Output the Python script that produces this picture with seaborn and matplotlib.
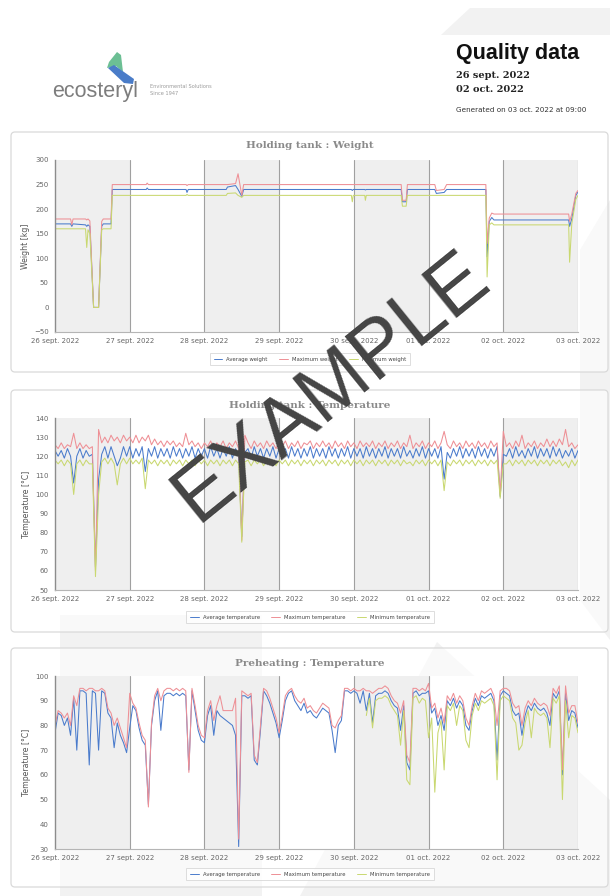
import pandas as pd
import matplotlib.pyplot as plt
import seaborn as sns
from matplotlib import font_manager
from matplotlib.patches import Polygon, FancyBboxPatch

# ---------------- data ----------------
day_labels = ['26 sept. 2022', '27 sept. 2022', '28 sept. 2022', '29 sept. 2022',
              '30 sept. 2022', '01 oct. 2022', '02 oct. 2022', '03 oct. 2022']

weight_names = ['Average weight', 'Maximum weight', 'Minimum weight']
temp_names = ['Average temperature', 'Maximum temperature', 'Minimum temperature']

# holding tank weight (hours since 26 sept 00:00)
weight_hours = [0, 5, 5.4, 5.8, 9.8, 10.2, 10.6, 11.2, 12.4, 14, 15, 15.5, 18, 18.4,
                29.3, 29.6, 30, 42.1, 42.4, 42.8, 55, 55.4, 58, 58.8, 60, 60.6,
                95.2, 95.5, 95.8, 99.5, 99.7, 100, 111.2, 111.6, 112.8, 113.2,
                122, 122.5, 125, 125.8, 138.4, 138.8, 139.5, 140.3, 141, 165, 165.3,
                166, 167.3, 168]
weight_avg = [170, 170, 165, 170, 168, 165, 168, 165, 0, 0, 165, 170, 170, 240,
              240, 243, 240, 240, 234, 240, 240, 245, 248, 240, 226, 240,
              240, 238, 240, 240, 239, 240, 240, 215, 215, 240,
              240, 232, 234, 240, 240, 103, 175, 183, 178, 178, 165,
              180, 228, 235]
weight_max = [180, 180, 168, 180, 180, 178, 180, 176, 0, 0, 175, 180, 180, 250,
              250, 253, 250, 250, 248, 250, 250, 250, 252, 272, 228, 250,
              250, 250, 250, 250, 250, 250, 250, 218, 218, 250,
              250, 238, 240, 250, 250, 130, 182, 192, 190, 190, 175,
              190, 232, 238]
weight_min = [160, 160, 160, 160, 160, 122, 158, 150, 0, 0, 158, 160, 160, 228,
              228, 228, 228, 228, 230, 228, 228, 232, 233, 228, 224, 228,
              228, 215, 228, 228, 218, 228, 228, 206, 206, 228,
              228, 228, 228, 228, 228, 62, 168, 172, 168, 168, 92,
              170, 220, 228]

# holding tank temperature, hourly 0..168
tank_avg = [123, 120, 123, 119, 124, 120, 106, 120, 124, 119, 123, 120,
            121, 62, 108, 121, 125, 119, 125, 120, 115, 119, 125, 120,
            125, 119, 124, 120, 125, 112, 124, 120, 125, 119, 124, 120,
            124, 119, 125, 120, 124, 119, 124, 120, 125, 119, 124, 120,
            124, 119, 125, 120, 124, 119, 124, 120, 125, 119, 124, 120,
            78, 122, 124, 119, 125, 120, 124, 119, 124, 120, 125, 119,
            124, 120, 124, 119, 125, 120, 124, 119, 124, 120, 125, 119,
            124, 120, 124, 119, 125, 120, 124, 119, 124, 120, 125, 119,
            124, 120, 124, 119, 125, 120, 124, 119, 124, 120, 125, 119,
            124, 120, 124, 119, 125, 120, 123, 119, 124, 120, 125, 119,
            124, 120, 124, 119, 125, 108, 122, 119, 124, 120, 125, 119,
            124, 120, 124, 119, 125, 120, 124, 119, 124, 120, 125, 99,
            121, 120, 124, 119, 125, 120, 123, 119, 124, 120, 125, 119,
            124, 120, 124, 119, 125, 120, 124, 119, 123, 120, 124, 119, 123]
tank_max = [126, 124, 127, 124, 126, 125, 132, 124, 127, 124, 126, 124,
            125, 60, 134, 127, 130, 127, 131, 128, 130, 127, 131, 128,
            130, 127, 131, 127, 130, 128, 131, 126, 129, 126, 128, 125,
            128, 126, 128, 125, 127, 125, 132, 126, 128, 125, 127, 124,
            127, 125, 128, 124, 127, 125, 128, 124, 127, 125, 128, 124,
            76, 131, 127, 124, 128, 125, 127, 124, 128, 125, 127, 124,
            127, 125, 128, 124, 127, 125, 128, 124, 127, 126, 128, 124,
            127, 125, 128, 125, 127, 124, 128, 125, 127, 124, 128, 125,
            127, 124, 128, 125, 127, 125, 128, 124, 127, 125, 128, 124,
            127, 125, 128, 124, 127, 125, 131, 124, 127, 125, 128, 124,
            127, 125, 128, 124, 127, 133, 126, 124, 128, 125, 127, 124,
            128, 125, 127, 124, 128, 125, 127, 124, 128, 125, 127, 100,
            133, 125, 127, 124, 128, 125, 131, 124, 127, 125, 128, 124,
            127, 125, 129, 125, 128, 125, 129, 126, 134, 125, 127, 124, 126]
tank_min = [118, 116, 118, 115, 118, 116, 100, 116, 118, 115, 118, 116,
            116, 57, 100, 117, 119, 116, 119, 116, 105, 116, 119, 116,
            119, 116, 118, 116, 119, 103, 118, 116, 118, 115, 118, 116,
            118, 115, 118, 116, 118, 115, 118, 116, 118, 115, 118, 116,
            118, 115, 118, 116, 118, 115, 118, 116, 118, 115, 118, 116,
            75, 117, 118, 115, 118, 116, 118, 115, 118, 116, 118, 115,
            118, 116, 118, 115, 118, 116, 118, 115, 118, 116, 118, 115,
            118, 116, 118, 115, 118, 116, 118, 115, 118, 116, 118, 115,
            118, 116, 118, 115, 118, 116, 118, 115, 118, 116, 118, 115,
            118, 116, 118, 115, 118, 116, 117, 115, 118, 116, 118, 115,
            118, 116, 118, 115, 118, 102, 117, 115, 118, 116, 118, 115,
            118, 116, 118, 115, 118, 116, 118, 115, 118, 116, 118, 98,
            116, 116, 118, 115, 118, 116, 118, 115, 118, 116, 118, 115,
            118, 116, 118, 115, 118, 116, 118, 115, 117, 114, 118, 115, 118]

# preheating temperature, hourly 0..168 (minimum only recorded from hour 100)
pre_avg = [77, 85, 84, 80, 83, 76, 91, 70, 94, 94, 93, 64,
           94, 93, 70, 94, 93, 85, 83, 71, 81, 76, 73, 69,
           79, 88, 86, 79, 74, 72, 48, 80, 90, 94, 78, 92,
           93, 93, 92, 93, 92, 93, 92, 62, 94, 86, 78, 74,
           73, 84, 88, 76, 86, 84, 83, 82, 81, 80, 76, 31,
           92, 92, 91, 92, 66, 64, 78, 94, 92, 89, 85, 81,
           75, 82, 90, 93, 94, 90, 88, 86, 89, 85, 86, 84,
           83, 85, 87, 86, 85, 78, 69, 80, 82, 94, 94, 93,
           94, 93, 89, 94, 86, 93, 81, 92, 93, 93, 94, 93,
           90, 88, 87, 78, 88, 65, 62, 93, 94, 92, 93, 93,
           94, 85, 87, 80, 84, 78, 90, 88, 91, 87, 90, 88,
           80, 78, 86, 91, 88, 92, 91, 92, 93, 90, 66, 92,
           94, 93, 92, 86, 84, 85, 76, 84, 88, 86, 89, 87,
           86, 87, 85, 80, 93, 91, 94, 60, 93, 82, 86, 85, 79]
pre_max = [80, 86, 85, 83, 85, 80, 92, 88, 95, 95, 94, 95,
           95, 94, 94, 95, 94, 87, 85, 80, 83, 79, 75, 71,
           93, 89, 87, 81, 76, 74, 47, 81, 92, 95, 90, 94,
           95, 95, 94, 95, 94, 95, 94, 61, 95, 88, 80, 76,
           75, 86, 90, 82, 88, 92, 86, 86, 86, 86, 91, 34,
           94, 93, 92, 93, 68, 65, 80, 95, 94, 91, 87, 83,
           77, 84, 92, 94, 95, 92, 90, 89, 91, 87, 88, 86,
           85, 87, 89, 88, 87, 80, 79, 82, 84, 95, 95, 94,
           95, 94, 94, 95, 94, 94, 93, 94, 95, 95, 96, 95,
           92, 90, 89, 85, 90, 68, 65, 95, 95, 94, 95, 94,
           97, 87, 89, 83, 87, 81, 92, 90, 93, 89, 92, 90,
           83, 80, 88, 93, 90, 94, 93, 94, 95, 92, 80, 94,
           95, 95, 94, 89, 87, 88, 80, 87, 90, 88, 91, 89,
           88, 89, 88, 84, 95, 93, 96, 62, 96, 85, 88, 88, 81]
pre_min = [None] * 100 + [
           84, 91, 79, 90, 91, 91, 92, 91,
           88, 86, 84, 72, 86, 58, 56, 91, 92, 89, 91, 90,
           75, 83, 53, 77, 82, 62, 88, 86, 89, 80, 88, 86,
           74, 71, 84, 89, 86, 90, 89, 90, 91, 88, 58, 90,
           92, 91, 90, 83, 81, 70, 72, 81, 86, 75, 87, 85,
           84, 85, 83, 71, 91, 89, 92, 50, 90, 75, 84, 83, 77]
hourly = list(range(169))

# ---------------- style ----------------
sns.set_style('white')
W, H = 610, 896
names = {f.name for f in font_manager.fontManager.ttflist}
narrow = 'Liberation Sans Narrow' if 'Liberation Sans Narrow' in names else None
plt.rcParams['font.family'] = ['DejaVu Sans']

c_avg, c_max, c_min = '#4a7bcc', '#ee8f95', '#c9d870'

fig = plt.figure(figsize=(W / 100, H / 100), dpi=100)
fig.patch.set_facecolor('white')

# background layer (watermark shapes, panel frames, header)
bg = fig.add_axes([0, 0, 1, 1], zorder=0)
bg.set_xlim(0, W)
bg.set_ylim(H, 0)
bg.axis('off')
for pts in ([(441, 35), (470, 8), (610, 8), (610, 35)],
            [(610, 200), (580, 250), (580, 600), (610, 640)],
            [(437, 642), (300, 896), (610, 896), (610, 800)],
            [(60, 615), (262, 615), (262, 896), (60, 896)]):
    bg.add_patch(Polygon(pts, closed=True, fc='#f2f2f2', ec='none'))

for top, bottom in ((132, 372), (390, 632), (648, 887)):
    bg.add_patch(FancyBboxPatch((11, top), 597, bottom - top,
                                boxstyle='round,pad=0,rounding_size=4',
                                fc='white', alpha=0.55, ec='none'))
    bg.add_patch(FancyBboxPatch((11, top), 597, bottom - top,
                                boxstyle='round,pad=0,rounding_size=4',
                                fc='none', ec='#dadada', lw=0.9))

# logo
bg.add_patch(Polygon([(117, 52), (121, 55), (123, 72), (116, 66), (107, 68), (109, 62)],
                     closed=True, fc='#6cbf94', ec='none'))
bg.add_patch(Polygon([(108, 68), (114, 65), (134, 79), (133, 84), (124, 83)],
                     closed=True, fc='#4a7cc8', ec='none'))
bg.text(52, 92, 'ecosteryl', fontsize=15.5, color='#7d7d7d', family='Liberation Sans',
        ha='left', va='center')
bg.text(150, 87, 'Environmental Solutions', fontsize=3.6, color='#9a9a9a', va='center')
bg.text(150, 93.5, 'Since 1947', fontsize=3.6, color='#9a9a9a', va='center')

if narrow:
    bg.text(456, 54, 'Quality data', fontsize=18, weight='bold', family=narrow,
            color='#111111', va='center', ha='left')
else:
    bg.text(456, 54, 'Quality data', fontsize=15.5, weight='bold',
            family='Liberation Sans', color='#111111', va='center', ha='left')
bg.text(456, 75, '26 sept. 2022', fontsize=7, weight='bold', family='DejaVu Serif',
        color='#222222', va='center')
bg.text(456, 89, '02 oct. 2022', fontsize=7, weight='bold', family='DejaVu Serif',
        color='#222222', va='center')
bg.text(456, 110, 'Generated on 03 oct. 2022 at 09:00', fontsize=5.2, color='#333333',
        va='center')


def draw_panel(top_px, bottom_px, title, title_y, hours, avg, mx, mn, labels,
               ylim, yticks, ylabel, legend_y):
    ax = fig.add_axes([55 / W, 1 - bottom_px / H, 523 / W, (bottom_px - top_px) / H],
                      zorder=1)
    ax.set_facecolor('white')
    for d in range(0, 7, 2):
        ax.axvspan(24 * d, 24 * d + 24, color='#efefef', lw=0, zorder=0)
    for d in range(1, 8):
        ax.axvline(24 * d, color='#a0a0a0', lw=0.8, zorder=1)

    n = len(hours)
    df = pd.DataFrame({'hour': list(hours) * 3,
                       'value': list(avg) + list(mx) + list(mn),
                       'series': [labels[0]] * n + [labels[1]] * n + [labels[2]] * n})
    sns.lineplot(data=df, x='hour', y='value', hue='series', hue_order=labels,
                 palette=dict(zip(labels, [c_avg, c_max, c_min])),
                 estimator=None, lw=0.75, ax=ax, zorder=2)

    ax.set_xlim(0, 168)
    ax.set_ylim(*ylim)
    ax.set_xticks(range(0, 169, 24))
    ax.set_xticklabels(day_labels)
    ax.set_yticks(yticks)
    ax.tick_params(axis='both', labelsize=5, colors='#666666', length=2.5, width=0.6,
                   pad=2)
    ax.tick_params(axis='x', length=0, pad=4)
    ax.set_xlabel('')
    ax.set_ylabel(ylabel, fontsize=5.6, color='#555555', labelpad=3)
    for side in ('top', 'right'):
        ax.spines[side].set_visible(False)
    ax.spines['left'].set_color('#8c8c8c')
    ax.spines['bottom'].set_color('#b5b5b5')
    ax.spines['left'].set_linewidth(1.0)
    ax.spines['bottom'].set_linewidth(0.8)

    sns.move_legend(ax, 'center', bbox_to_anchor=(255 / 523, -legend_y),
                    ncol=3, title=None, frameon=True, fontsize=3.8,
                    handlelength=1.6, columnspacing=2.2, handletextpad=0.8,
                    borderpad=0.7, fancybox=False, edgecolor='#cfcfcf')
    leg = ax.get_legend()
    leg.get_frame().set_linewidth(0.6)
    for line in leg.get_lines():
        line.set_linewidth(0.7)
    for t in leg.get_texts():
        t.set_color('#444444')

    bg.text(309.5, title_y, title, fontsize=7.5, weight='bold', family='DejaVu Serif',
            color='#8a8a8a', ha='center', va='center')
    return ax


draw_panel(160, 332, 'Holding tank : Weight', 146, weight_hours, weight_avg,
           weight_max, weight_min, weight_names, (-50, 300), range(-50, 301, 50),
           'Weight [kg]', 27 / 172)
draw_panel(418, 590, 'Holding tank : Temperature', 405, hourly, tank_avg, tank_max,
           tank_min, temp_names, (50, 140), range(50, 141, 10), 'Temperature [°C]',
           27 / 172)
draw_panel(676, 849, 'Preheating : Temperature', 663, hourly, pre_avg, pre_max,
           pre_min, temp_names, (30, 100), range(30, 101, 10), 'Temperature [°C]',
           25 / 173)

# "EXAMPLE" stamp on top
fg = fig.add_axes([0, 0, 1, 1], zorder=5)
fg.set_xlim(0, W)
fg.set_ylim(H, 0)
fg.axis('off')
fg.patch.set_alpha(0)
fg.text(332, 388, 'EXAMPLE', fontsize=58, color='#444444', rotation=39,
        ha='center', va='center', rotation_mode='anchor', family='Liberation Sans')

fig.savefig('out.png', dpi=100)
